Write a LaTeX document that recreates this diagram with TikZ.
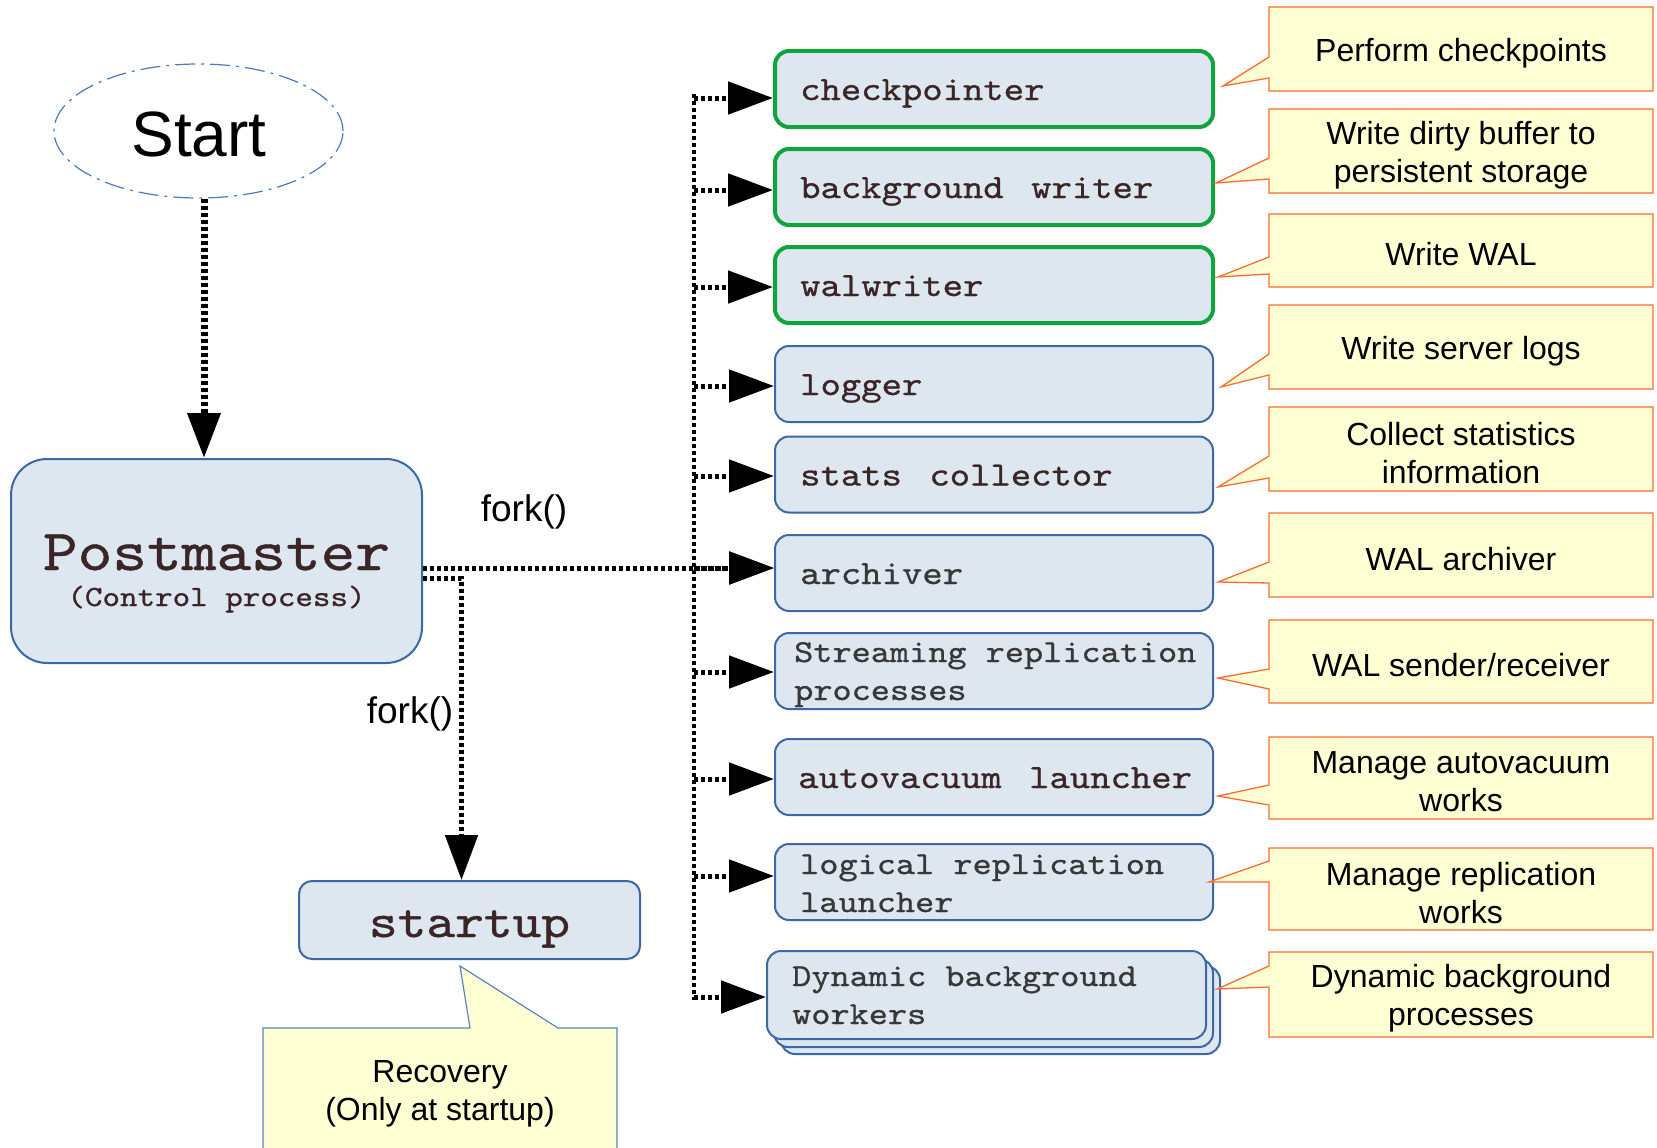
\documentclass[tikz,border=0pt]{standalone}
\usepackage{fontspec}
\setmainfont{Liberation Sans}
\newfontfamily\cour[Extension=.otf, FakeStretch=1.14, FakeBold=0.8]{lmmono10-regular}
\newfontfamily\courw[Extension=.otf, FakeStretch=1.1401, FakeBold=0.81, WordSpace=1.35]{lmmono10-regular}
\usetikzlibrary{arrows.meta,shapes.geometric}
\definecolor{boxfill}{HTML}{DEE6F0}
\definecolor{boxline}{HTML}{3A68A8}
\definecolor{grn}{HTML}{12A43C}
\definecolor{cfill}{HTML}{FFFFD4}
\definecolor{cline}{HTML}{FF6A2E}
\definecolor{rline}{HTML}{5A82C0}
\definecolor{ctxt}{HTML}{3A2626}
\definecolor{gtxt}{HTML}{383838}
\definecolor{elline}{HTML}{4A7AC0}
\newcommand\mycallout[8]{%
  \filldraw[cbox] (1269,#1) -- (1653,#1) -- (1653,#2) -- (1269,#2) -- (1269,#4) -- (#5,#6) -- (1269,#3) -- cycle;
  \node[ctext] (#7) at (1461,{(#1+#2)/2+4}) {#8};
}
\begin{document}
\begin{tikzpicture}[x=1pt,y=-1pt,
  pbox/.style={draw=boxline, line width=2pt, fill=boxfill, rounded corners=14pt, inner sep=0pt},
  gbox/.style={pbox, draw=grn, line width=4pt},
  rsize/.style={minimum width=438pt, minimum height=76pt},
  onel/.style={anchor=base west, inner sep=0pt, font=\courw\fontsize{34}{40}\selectfont, text=ctxt},
  twol/.style={anchor=base west, inner sep=0pt, font=\cour\fontsize{32}{38}\selectfont, text=gtxt},
  fk/.style={draw, line width=5pt, dash pattern=on 4pt off 3pt, -{Triangle[length=45pt,width=32pt]}},
  fkv/.style={draw, line width=4pt, dash pattern=on 4pt off 3pt},
  cbox/.style={fill=cfill, draw=cline, line width=1.3pt, line join=miter},
  ctext/.style={align=center, font=\fontsize{32}{38}\selectfont, inner sep=0pt},
  lbl/.style={font=\fontsize{37}{40}\selectfont, inner sep=0pt}
]
\useasboundingbox (0,0) rectangle (1657,1148);
\clip (0,0) rectangle (1657,1148);

% Start
\node[ellipse, draw=elline, line width=1.2pt, dash pattern=on 20pt off 6pt on 3pt off 6pt,
      minimum width=289pt, minimum height=134pt, inner sep=0pt] (se) at (198.5,131) {};
\node[font=\fontsize{64}{70}\selectfont, inner sep=0pt] (setxt) at (199,134) {Start};

% Postmaster
\node[pbox, rounded corners=36pt, minimum width=411pt, minimum height=204pt] (pm) at (216.5,561) {};
\node[anchor=base, inner sep=0pt, font=\cour\fontsize{58}{60}\selectfont, text=ctxt] (pmt) at (216.5,570) {Postmaster};
\node[anchor=base, inner sep=0pt, font=\cour\fontsize{29.3}{32}\selectfont, text=ctxt] (pmc) at (216.5,606) {(Control process)};

% startup
\node[pbox, rounded corners=13pt, minimum width=341pt, minimum height=78pt,
      font=\cour\fontsize{48}{50}\selectfont, text=ctxt, text height=38pt, text depth=4pt] (st) at (469.5,920) {startup};

% right boxes
\node[gbox, rsize] (cp) at (994,89) {};
\node[onel] (cpt) at (800,100) {checkpointer};
\node[gbox, rsize] (bw) at (994,187) {};
\node[onel] (bwt) at (800,198) {background writer};
\node[gbox, rsize] (ww) at (994,285) {};
\node[onel] (wwt) at (800,296) {walwriter};
\node[pbox, rsize] (lg) at (994,384) {};
\node[onel] (lgt) at (800,395) {logger};
\node[pbox, rsize] (sc) at (994,474.5) {};
\node[onel] (sct) at (800,485.5) {stats collector};
\node[pbox, rsize] (ar) at (994,573) {};
\node[onel, text=gtxt] (art) at (800,584) {archiver};
\node[pbox, rsize] (sr) at (994,671) {};
\node[twol] (sr1) at (794,662) {Streaming replication};
\node[twol] (sr2) at (794,700) {processes};
\node[pbox, rsize] (av) at (994,777) {};
\node[onel] (avt) at (798,788) {autovacuum launcher};
\node[pbox, rsize] (lr) at (994,882) {};
\node[twol] (lr1) at (800,874) {logical replication};
\node[twol] (lr2) at (800,912) {launcher};
\node[pbox, minimum width=439pt, minimum height=88pt] (dyn3) at (1000.5,1010) {};
\node[pbox, minimum width=439pt, minimum height=88pt] (dyn2) at (993.5,1003) {};
\node[pbox, minimum width=439pt, minimum height=88pt] (dyn) at (986.5,995) {};
\node[twol] (dy1) at (792,986) {Dynamic background};
\node[twol] (dy2) at (792,1024) {workers};

% connectors
\coordinate (sx) at (204,0);
\draw[fk, line width=7pt, dash pattern=on 4pt off 3pt] (se.south -| sx) -- (pm.north -| sx);
\coordinate (tt) at (694,94);
\coordinate (tb) at (694,1000);
\draw[fkv] (tt) -- (tb);
\foreach \n/\s in {cp/-9, bw/-3, ww/-2, lg/-2, sc/-1.5, ar/5, sr/-1, av/-2, lr/6, dyn/-2} {
  \coordinate (\n-in) at ([yshift=\s pt]\n.west);
  \draw[fk] (\n-in -| tt) -- (\n-in);
}
\draw[fk] ([yshift=-7pt]pm.east) -- (ar-in);
\draw[fk] ([yshift=-17pt]pm.east) -| ([xshift=-8pt]st.north);
\node[lbl] (f1) at (524,512) {fork()};
\node[lbl] (f2) at (410,714) {fork()};

% callouts
\mycallout{7}{91}{57}{78}{1223}{86}{c1}{Perform checkpoints}
\mycallout{109}{193}{158}{179}{1216}{183}{c2}{Write dirty buffer to\\persistent storage}
\mycallout{214}{287}{257}{274}{1218}{277}{c3}{Write WAL}
\mycallout{305}{389}{354}{375}{1221}{387}{c4}{Write server logs}
\mycallout{407}{491}{456}{478}{1218}{487}{c5}{Collect statistics\\information}
\mycallout{513}{597}{562}{583}{1218}{582}{c6}{WAL archiver}
\mycallout{620}{703}{669}{689}{1218}{678}{c7}{WAL sender/receiver}
\mycallout{737}{819}{785}{805}{1218}{796}{c8}{Manage autovacuum\\works}
\mycallout{848}{930}{861}{882}{1209}{882}{c9}{Manage replication\\works}
\mycallout{952}{1037}{966}{987}{1217}{989}{c10}{Dynamic background\\processes}

% recovery callout
\filldraw[fill=cfill, draw=rline, line width=1.2pt] (263,1028) -- (470,1028) -- (460,966) -- (558,1028) -- (617,1028) -- (617,1170) -- (263,1170) -- cycle;
\node[ctext] (rec) at (440,1094) {Recovery\\(Only at startup)};
\end{tikzpicture}
\end{document}
